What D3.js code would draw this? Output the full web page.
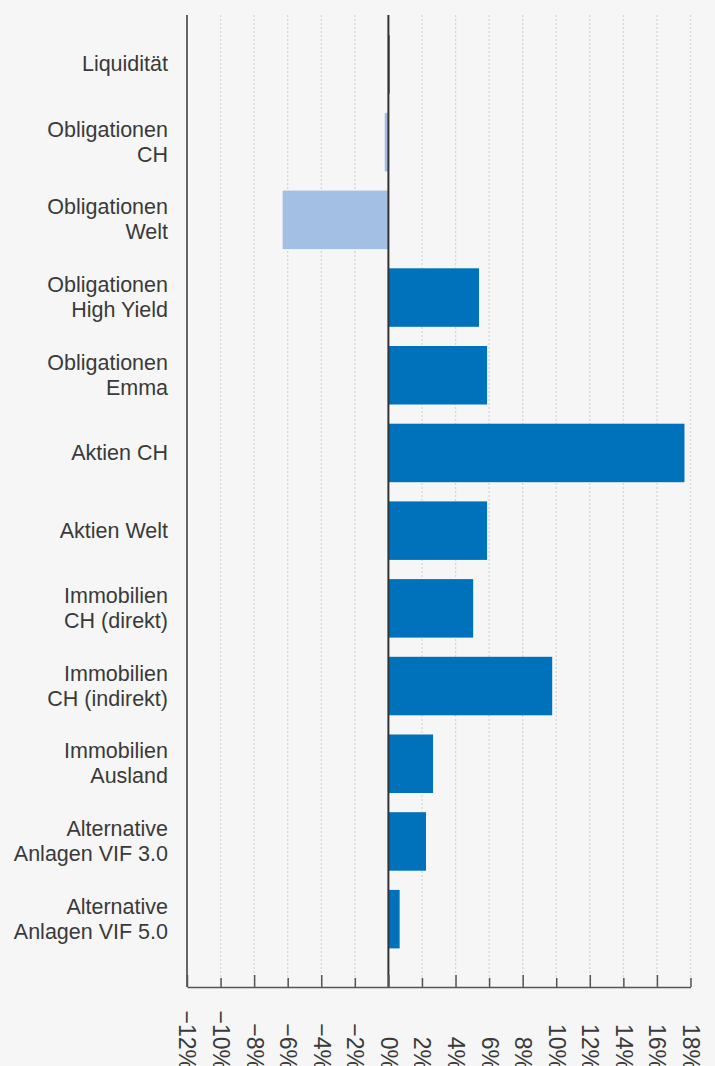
<!DOCTYPE html>
<html>
<head>
<meta charset="utf-8">
<script src="https://cdn.jsdelivr.net/npm/d3@7"></script>
<style>
  html, body { margin: 0; padding: 0; background: #f5f6f5; }
  svg { display: block; }
  text { font-family: "Liberation Sans", Arial, Helvetica, sans-serif; fill: #3a3a3a; }
</style>
</head>
<body>
<div id="chart"></div>
<script>
// categories (top to bottom), "\n" = line break in label
var categories = [
  "Liquidität",
  "Obligationen\nCH",
  "Obligationen\nWelt",
  "Obligationen\nHigh Yield",
  "Obligationen\nEmma",
  "Aktien CH",
  "Aktien Welt",
  "Immobilien\nCH (direkt)",
  "Immobilien\nCH (indirekt)",
  "Immobilien\nAusland",
  "Alternative\nAnlagen VIF 3.0",
  "Alternative\nAnlagen VIF 5.0"
];
// performance in %
var values = [0.08, -0.22, -6.3, 5.4, 5.88, 17.64, 5.88, 5.05, 9.76, 2.66, 2.24, 0.67];
var tickValues = [-12, -10, -8, -6, -4, -2, 0, 2, 4, 6, 8, 10, 12, 14, 16, 18];

var width = 715, height = 1066;
var plotTop = 15, axisY = 987;

var svg = d3.select("#chart").append("svg")
    .attr("width", width)
    .attr("height", height);

var x = d3.scaleLinear()
    .domain([-12, 18])
    .range([187, 690.5]);

var y = d3.scaleBand()
    .domain(categories)
    .range([25.6, 958])
    .paddingInner(0.247)
    .paddingOuter(0.1235);

// dotted grid
svg.append("g")
  .selectAll("line")
  .data(tickValues.filter(function(d) { return d != -12 && d != 0; }))
  .enter().append("line")
    .attr("x1", function(d) { return x(d); })
    .attr("x2", function(d) { return x(d); })
    .attr("y1", plotTop)
    .attr("y2", axisY)
    .attr("stroke", "#d6d8d6")
    .attr("stroke-width", 1.3)
    .attr("stroke-dasharray", "2,2");

// bars
svg.append("g")
  .selectAll("rect")
  .data(values)
  .enter().append("rect")
    .attr("x", function(d) { return x(Math.min(0, d)); })
    .attr("y", function(d, i) { return y(categories[i]); })
    .attr("width", function(d) { return Math.abs(x(d) - x(0)); })
    .attr("height", y.bandwidth())
    .attr("fill", function(d) { return d < 0 ? "#a3bfe3" : "#0072bb"; });

// left line and zero line
svg.append("line")
    .attr("x1", x(-12)).attr("x2", x(-12))
    .attr("y1", plotTop).attr("y2", axisY)
    .attr("stroke", "#666").attr("stroke-width", 2);
svg.append("line")
    .attr("x1", x(0)).attr("x2", x(0))
    .attr("y1", plotTop).attr("y2", axisY)
    .attr("stroke", "#333").attr("stroke-width", 2);

// bottom axis, ticks point up
var axis = d3.axisBottom(x)
    .tickValues(tickValues)
    .tickSizeInner(-9)
    .tickSizeOuter(0)
    .tickFormat(function(d) { return d3.format("d")(d) + "%"; });

var gx = svg.append("g")
    .attr("transform", "translate(0," + axisY + ")")
    .call(axis);
gx.select(".domain").attr("stroke", "#555").attr("stroke-width", 1.5);
gx.selectAll(".tick line")
    .attr("stroke", "#555")
    .attr("stroke-width", 1.5)
    .attr("y2", function(d) { return d % 4 == 0 ? -12 : -9; });
gx.selectAll(".tick text")
    .attr("transform", "rotate(90)")
    .attr("x", 83)
    .attr("y", 0)
    .attr("dy", "0.35em")
    .attr("text-anchor", "end")
    .style("font-size", "23px")
    .style("fill", "#3a3a3a");
gx.attr("font-family", null).attr("font-size", null);

// category labels
var labels = svg.append("g")
  .selectAll("text")
  .data(categories)
  .enter().append("text")
    .attr("text-anchor", "end")
    .style("font-size", "21.5px");

labels.each(function(d) {
  var lines = d.split("\n");
  var cy = y(d) + y.bandwidth() / 2;
  var t = d3.select(this);
  lines.forEach(function(line, k) {
    t.append("tspan")
      .attr("x", 168)
      .attr("y", cy + 7 + (k - (lines.length - 1) / 2) * 25)
      .text(line);
  });
});
</script>
</body>
</html>
